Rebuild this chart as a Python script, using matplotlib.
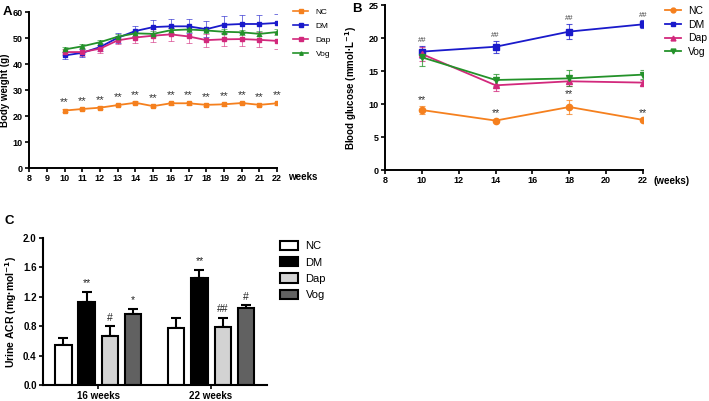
import matplotlib
matplotlib.use("Agg")
import matplotlib.pyplot as plt
from matplotlib.lines import Line2D
from matplotlib.colors import to_rgba
import numpy as np

plt.rcParams['font.family'] = ['Liberation Sans', 'DejaVu Sans']

# ---------- Panel A data ----------
weeks_a = [10, 11, 12, 13, 14, 15, 16, 17, 18, 19, 20, 21, 22]
nc_a = [22.1, 22.7, 23.2, 24.2, 25.1, 23.8, 24.9, 24.9, 24.3, 24.5, 25.0, 24.3, 24.9]
nc_a_err = [0.5, 0.5, 0.5, 0.5, 0.5, 0.5, 0.5, 0.5, 0.5, 0.5, 0.5, 0.5, 0.5]
dm_a = [43.3, 44.3, 46.5, 50.1, 52.7, 54.2, 54.5, 54.5, 53.4, 55.1, 55.4, 55.4, 55.8]
dm_a_err = [1.2, 1.5, 1.5, 2.0, 2.0, 2.6, 3.0, 2.7, 3.0, 3.2, 3.5, 3.6, 3.5]
dap_a = [44.6, 44.6, 45.9, 49.1, 50.2, 50.9, 51.4, 50.6, 49.2, 49.5, 49.6, 49.3, 48.9]
dap_a_err = [1.3, 1.5, 1.5, 1.5, 2.0, 2.4, 2.5, 2.5, 2.5, 2.5, 2.8, 2.9, 3.0]
vog_a = [45.6, 46.8, 48.4, 50.5, 51.8, 51.6, 53.0, 53.3, 52.9, 52.4, 52.2, 51.6, 52.3]
vog_a_err = [1.0, 1.0, 1.0, 1.0, 1.0, 1.0, 1.0, 1.0, 1.0, 1.0, 1.0, 1.0, 1.0]
xticks_a = list(range(8, 23))
yticks_a = [0, 10, 20, 30, 40, 50, 60]

# ---------- Panel B data ----------
weeks_b = [10, 14, 18, 22]
nc_b = [9.1, 7.5, 9.56, 7.6]
nc_b_err = [0.6, 0.15, 1.0, 0.15]
dm_b = [17.96, 18.7, 21.0, 22.1]
dm_b_err = [0.9, 0.9, 1.2, 0.6]
dap_b = [17.6, 12.85, 13.46, 13.26]
dap_b_err = [1.0, 0.8, 0.7, 0.4]
vog_b = [17.1, 13.66, 13.9, 14.47]
vog_b_err = [1.3, 0.9, 1.2, 0.7]
xticks_b = [8, 10, 12, 14, 16, 18, 20, 22]
yticks_b = [0, 5, 10, 15, 20, 25]

# ---------- Panel C data ----------
groups_c = ['16 weeks', '22 weeks']
series_c = ['NC', 'DM', 'Dap', 'Vog']
acr_16 = [0.54, 1.124, 0.664, 0.971]
acr_16_err = [0.10, 0.14, 0.135, 0.063]
acr_22 = [0.777, 1.454, 0.795, 1.047]
acr_22_err = [0.14, 0.117, 0.12, 0.036]
sig_16 = ['', '**', '#', '*']
sig_22 = ['', '**', '##', '#']
yticks_c = [0.0, 0.4, 0.8, 1.2, 1.6, 2.0]

c_nc = '#f5801e'
c_dm = '#1a1acb'
c_dap = '#d2287c'
c_vog = '#24922a'

fig = plt.figure(figsize=(7.09, 4.01), dpi=100)

def style_axes(ax, lw=1.4):
    for s in ['top', 'right']:
        ax.spines[s].set_visible(False)
    for s in ['left', 'bottom']:
        ax.spines[s].set_linewidth(lw)
    ax.tick_params(direction='out', length=3, width=1.2, pad=1.5)

# ---------- Panel A ----------
axA = fig.add_axes([0.041, 0.581, 0.350, 0.389])
series_a = [('NC', nc_a, nc_a_err, c_nc, 's'),
            ('DM', dm_a, dm_a_err, c_dm, 's'),
            ('Dap', dap_a, dap_a_err, c_dap, 's'),
            ('Vog', vog_a, vog_a_err, c_vog, '^')]
handles_a = []
for name, vals, err, col, mk in series_a:
    axA.errorbar(weeks_a, vals, yerr=err, color=col, marker=mk, markersize=3,
                 lw=1.3, elinewidth=0.7, capsize=2, capthick=0.7,
                 ecolor=to_rgba(col, 0.6))
    handles_a.append(Line2D([], [], color=col, marker=mk, markersize=2.5, lw=1.2, label=name))
for w, v in zip(weeks_a, nc_a):
    axA.text(w, v + 1.2, '**', ha='center', va='bottom', fontsize=8, color='#333333')
axA.set_xlim(8, 22)
axA.set_ylim(0, 60)
axA.set_xticks(xticks_a)
axA.set_yticks(yticks_a)
style_axes(axA)
for lab in axA.get_xticklabels() + axA.get_yticklabels():
    lab.set_fontsize(6.5)
    lab.set_fontweight('bold')
axA.set_ylabel('Body weight (g)', fontsize=7, fontweight='bold', labelpad=2)
axA.text(1.045, -0.06, 'weeks', transform=axA.transAxes, fontsize=7,
         fontweight='bold', va='center', ha='left')
axA.legend(handles=handles_a, loc='upper left', bbox_to_anchor=(293 / 709, 1 - 8 / 401),
           bbox_transform=fig.transFigure, borderaxespad=0, borderpad=0,
           frameon=False, fontsize=6, handlelength=1.8,
           labelspacing=0.75, handletextpad=0.9)
fig.text(0.004, 0.985, 'A', fontsize=9.5, fontweight='bold', va='top')

# ---------- Panel B ----------
axB = fig.add_axes([0.543, 0.576, 0.364, 0.411])
series_b = [('NC', nc_b, nc_b_err, c_nc, 'o'),
            ('DM', dm_b, dm_b_err, c_dm, 's'),
            ('Dap', dap_b, dap_b_err, c_dap, '^'),
            ('Vog', vog_b, vog_b_err, c_vog, 'v')]
handles_b = []
for name, vals, err, col, mk in series_b:
    axB.errorbar(weeks_b, vals, yerr=err, color=col, marker=mk, markersize=4.5,
                 lw=1.3, elinewidth=0.8, capsize=2.5, capthick=0.8,
                 ecolor=to_rgba(col, 0.75))
    handles_b.append(Line2D([], [], color=col, marker=mk, markersize=3.5, lw=1.3, label=name))
for w, v, e in zip(weeks_b, dm_b, dm_b_err):
    axB.text(w, v + e + 0.2, '##', ha='center', va='bottom', fontsize=5.5, color='#444444')
for w, v, e in zip(weeks_b, nc_b, nc_b_err):
    axB.text(w, v + e + 0.2, '**', ha='center', va='bottom', fontsize=7.5, color='#333333')
axB.set_xlim(8, 22)
axB.set_ylim(0, 25)
axB.set_xticks(xticks_b)
axB.set_yticks(yticks_b)
style_axes(axB)
for lab in axB.get_xticklabels() + axB.get_yticklabels():
    lab.set_fontsize(6.5)
    lab.set_fontweight('bold')
axB.set_ylabel('Blood glucose (mmol·L$^{\\mathbf{-1}}$)', fontsize=7,
               fontweight='bold', labelpad=7)
axB.text(1.04, -0.065, '(weeks)', transform=axB.transAxes, fontsize=7,
         fontweight='bold', va='center', ha='left')
axB.legend(handles=handles_b, loc='upper left', bbox_to_anchor=(665 / 709, 1 - 6 / 401),
           bbox_transform=fig.transFigure, borderaxespad=0, borderpad=0,
           frameon=False, fontsize=7.5, handlelength=1.5,
           labelspacing=0.35, handletextpad=0.7)
fig.text(0.497, 0.993, 'B', fontsize=9.5, fontweight='bold', va='top')

# ---------- Panel C ----------
axC = fig.add_axes([0.0606, 0.040, 0.316, 0.3665])
colors_c = ['white', 'black', '#d3d3d3', '#616161']
group_starts = [0.0, 4.86]
width = 0.7
for gi, (vals, errs, sigs) in enumerate([(acr_16, acr_16_err, sig_16),
                                          (acr_22, acr_22_err, sig_22)]):
    xs = [group_starts[gi] + i for i in range(len(series_c))]
    for i, x in enumerate(xs):
        axC.bar(x, vals[i], width=width, color=colors_c[i], edgecolor='black',
                linewidth=1.5, label=series_c[i] if gi == 0 else None, zorder=2)
        axC.errorbar(x, vals[i], yerr=[[0], [errs[i]]], fmt='none', ecolor='black',
                     elinewidth=1.5, capsize=3.5, capthick=1.5, zorder=1)
        if sigs[i]:
            axC.text(x, vals[i] + errs[i] + 0.05, sigs[i], ha='center', va='bottom',
                     fontsize=7.5, color='#222222')
axC.set_xlim(-0.88, 4.86 + 3 + 0.91)
axC.set_ylim(0, 2.0)
axC.set_yticks(yticks_c)
axC.set_yticklabels([f'{v:.1f}' for v in yticks_c])
axC.set_xticks([g + 1.5 for g in group_starts])
axC.set_xticklabels(groups_c)
style_axes(axC, lw=1.5)
for lab in axC.get_xticklabels() + axC.get_yticklabels():
    lab.set_fontsize(7)
    lab.set_fontweight('bold')
axC.set_ylabel('Urine ACR (mg·mol$^{\\mathbf{-1}}$)', fontsize=7.5,
               fontweight='bold', labelpad=3)
axC.legend(loc='upper left', bbox_to_anchor=(280 / 709, 1 - 241 / 401),
           bbox_transform=fig.transFigure, borderaxespad=0, borderpad=0,
           frameon=False, fontsize=8, handlelength=1.6, handleheight=0.9,
           labelspacing=0.52, handletextpad=0.7)
fig.text(0.006, 0.465, 'C', fontsize=9.5, fontweight='bold', va='top')

fig.savefig('out.png', dpi=100)
